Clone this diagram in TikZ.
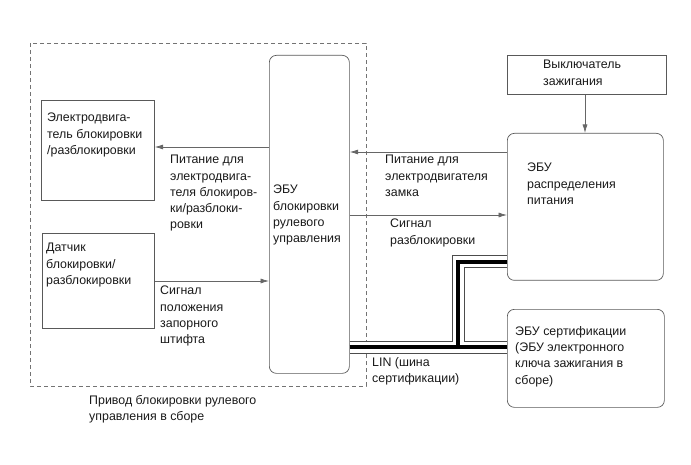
\documentclass[tikz,border=0pt]{standalone}
\usepackage{fontspec}
\setmainfont{Liberation Sans}
\usetikzlibrary{positioning, arrows.meta}

\begin{document}
\begin{tikzpicture}[x=1pt, y=-1pt, font=\fontsize{12.4}{16.3}\selectfont,
    box/.style={draw=black!65, line width=0.7pt, anchor=north west, inner sep=0pt},
    rbox/.style={box, rounded corners=7pt},
    txt/.style={anchor=north west, align=left, inner sep=0pt, text=black!90},
    sig/.style={draw=black!60, line width=0.7pt, -{Latex[length=8.5pt, width=5pt]}}]
    \useasboundingbox (0,0) rectangle (691,465);
    % actuator assembly frame
    \draw[black!55, line width=0.6pt, dash pattern=on 4pt off 3pt] (30,43) rectangle (366,386);
    \node[txt] (assy) at (89,395) {Привод блокировки рулевого\\управления в сборе};

    \node[box, minimum width=113pt, minimum height=100pt] (motor) at (41,100) {};
    \node[txt] (motortxt) at (47,113) {Электродвига-\\тель блокировки\\/разблокировки};
    \node[box, minimum width=112pt, minimum height=95pt] (sensor) at (42,233) {};
    \node[txt] (sensortxt) at (46,243) {Датчик\\блокировки/\\разблокировки};
    \node[rbox, minimum width=80pt, minimum height=318pt] (ecu) at (269,55) {};
    \node[txt] (ecutxt) at (273,185) {ЭБУ\\блокировки\\рулевого\\управления};

    \node[box, minimum width=159pt, minimum height=39pt] (ign) at (507,55) {};
    \node[txt] (igntxt) at (543,60) {Выключатель\\зажигания};
    \node[rbox, minimum width=156pt, minimum height=147pt] (pd) at (507,133) {};
    \node[txt] (pdtxt) at (527,163) {ЭБУ\\распределения\\питания};
    \node[rbox, minimum width=157pt, minimum height=98pt] (cert) at (507,309) {};
    \node[txt] (certtxt) at (515,326) {ЭБУ сертификации\\(ЭБУ электронного\\ключа зажигания в\\сборе)};

    % signals
    \draw[sig] (ecu.west |- 0,147) -- (motor.east |- 0,147);
    \node[txt] (pwrmot) at (170,155) {Питание для\\электродвига-\\теля блокиров-\\ки/разблоки-\\ровки};
    \draw[sig] (sensor.east |- 0,281) -- (ecu.west |- 0,281);
    \node[txt] (pinsig) at (160,286) {Сигнал\\положения\\запорного\\штифта};
    \draw[sig] (pd.west |- 0,152) -- (ecu.east |- 0,152);
    \node[txt] (pwrlock) at (385,155) {Питание для\\электродвигателя\\замка};
    \draw[sig] (ecu.east |- 0,215) -- (pd.west |- 0,215);
    \node[txt] (unlock) at (390,219) {Сигнал\\разблокировки};
    \draw[sig] (ign.south -| 585,0) -- (pd.north -| 585,0);

    % LIN bus
    \coordinate (jn) at (458,347);
    \foreach \w/\c in {13/black!70, 11/white, 4/black}
      \draw[line width=\w pt, \c] (ecu.east |- jn) -- (cert.west |- jn) (jn) |- (pd.west |- 0,262);
    \node[txt] (lin) at (372,357) {LIN (шина\\сертификации)};
  \end{tikzpicture}
\end{document}
